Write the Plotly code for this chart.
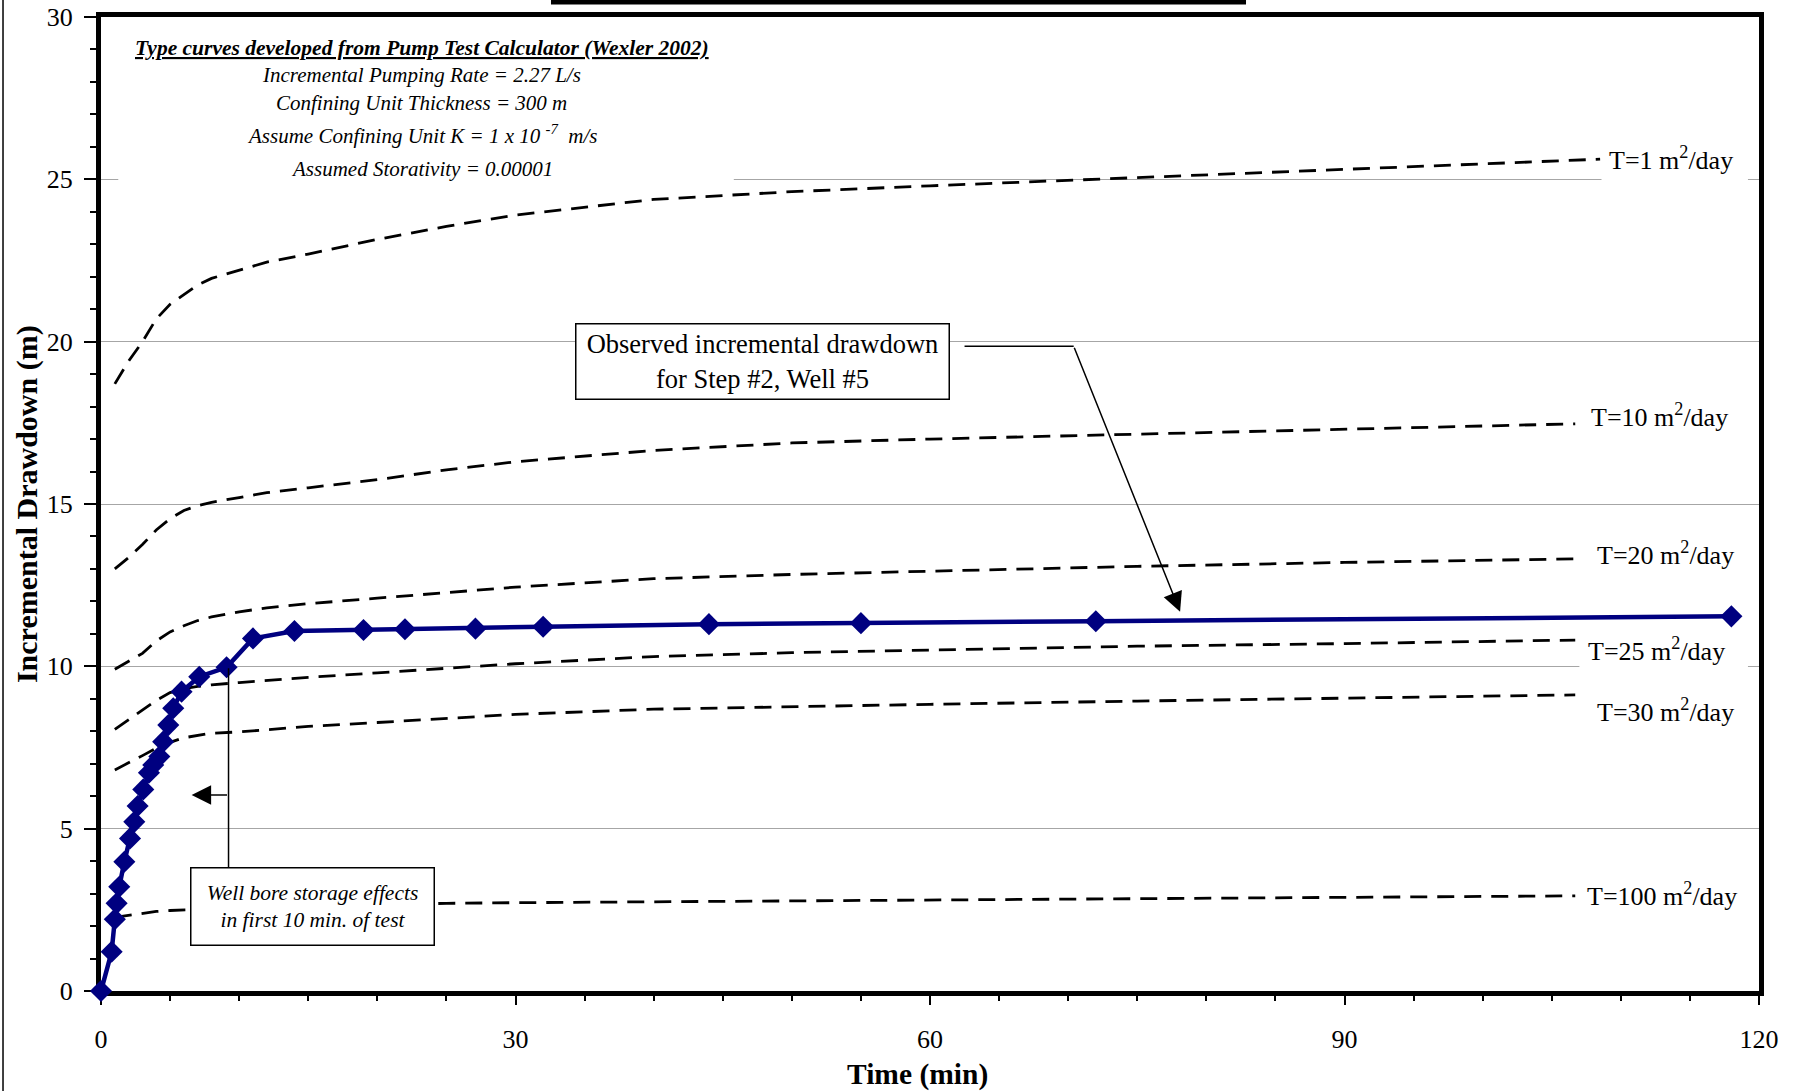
import plotly.graph_objects as go

# ---------------- data ----------------
obs_time = [0, 0.77, 1.0, 1.13, 1.32, 1.69, 2.1, 2.41, 2.65, 3.06, 3.47, 3.78, 4.22, 4.5,
            4.87, 5.23, 5.83, 7.11, 9.09, 11.0, 14.0, 19.0, 22.0, 27.1, 32.0, 44.0, 55.0, 72.0, 118.0]
obs_drawdown = [0, 1.21, 2.21, 2.70, 3.21, 3.98, 4.70, 5.21, 5.70, 6.21, 6.72, 6.96, 7.22, 7.68,
                8.19, 8.71, 9.22, 9.68, 9.97, 10.86, 11.09, 11.12, 11.14, 11.16, 11.22, 11.30, 11.33, 11.39, 11.54]

curve_time = [1, 2, 3, 4, 5, 6, 7, 8, 10, 12, 15, 20, 25, 30, 40, 50, 60, 75, 90, 106.7]
curve_time_T1 = [1, 2, 3, 4, 5, 6, 7, 8, 10, 12, 15, 20, 25, 30, 40, 50, 60, 75, 90, 108.5]

s_T1 = [18.7, 19.4, 20.0, 20.7, 21.15, 21.45, 21.75, 21.95, 22.2, 22.45, 22.7, 23.15, 23.55, 23.9,
        24.38, 24.62, 24.8, 25.05, 25.3, 25.62]
s_T10 = [13.0, 13.35, 13.75, 14.2, 14.55, 14.8, 14.95, 15.05, 15.2, 15.35, 15.5, 15.75, 16.05, 16.3,
         16.65, 16.88, 17.0, 17.15, 17.3, 17.47]
s_T20 = [9.91, 10.15, 10.4, 10.78, 11.06, 11.25, 11.41, 11.52, 11.68, 11.8, 11.93, 12.1, 12.26, 12.44,
         12.7, 12.83, 12.93, 13.08, 13.2, 13.31]
s_T25 = [8.06, 8.35, 8.66, 8.95, 9.19, 9.31, 9.38, 9.43, 9.5, 9.57, 9.66, 9.8, 9.95, 10.08,
         10.3, 10.42, 10.5, 10.62, 10.7, 10.81]
s_T30 = [6.81, 7.02, 7.25, 7.48, 7.66, 7.8, 7.88, 7.94, 7.98, 8.04, 8.15, 8.27, 8.4, 8.52,
         8.68, 8.76, 8.83, 8.93, 9.01, 9.12]
s_T100 = [2.27, 2.33, 2.4, 2.45, 2.48, 2.5, 2.52, 2.54, 2.56, 2.58, 2.61, 2.65, 2.7, 2.72,
          2.75, 2.77, 2.79, 2.85, 2.89, 2.93]

curve_labels = ["T=1 m<sup>2</sup>/day", "T=10 m<sup>2</sup>/day", "T=20 m<sup>2</sup>/day",
                "T=25 m<sup>2</sup>/day", "T=30 m<sup>2</sup>/day", "T=100 m<sup>2</sup>/day"]
label_x = [109.0, 107.7, 108.1, 107.5, 108.1, 107.4]
label_y = [25.65, 17.72, 13.47, 10.51, 8.64, 2.98]

x_ticks = [0, 30, 60, 90, 120]
y_ticks = [0, 5, 10, 15, 20, 25, 30]

info_lines = [
    "<b><i><u>Type curves developed from Pump Test Calculator (Wexler 2002)</u></i></b>",
    "<i>Incremental Pumping Rate = 2.27 L/s</i>",
    "<i>Confining Unit Thickness = 300 m</i>",
    "<i>Assume Confining Unit K = 1 x 10 <sup>-7</sup>  m/s</i>",
    "<i>Assumed Storativity = 0.00001</i>",
]
info_y = [29.05, 28.2, 27.36, 26.38, 25.33]
info_x = 23.2

FONT = "Liberation Serif"
NAVY = "#000080"

fig = go.Figure()

curves = [(curve_time_T1, s_T1), (curve_time, s_T10), (curve_time, s_T20),
          (curve_time, s_T25), (curve_time, s_T30), (curve_time, s_T100)]
for tt, ss in curves:
    fig.add_trace(go.Scatter(x=tt, y=ss, mode="lines",
                             line=dict(color="black", width=2.8, dash="17px,10px"),
                             hoverinfo="skip", showlegend=False))

fig.add_trace(go.Scatter(x=obs_time, y=obs_drawdown, mode="lines+markers",
                         line=dict(color=NAVY, width=4.5),
                         marker=dict(symbol="diamond", size=17, color=NAVY),
                         cliponaxis=False, showlegend=False))

shapes = []
# white backgrounds (text boxes) sitting between gridlines and traces
shapes.append(dict(type="rect", xref="x", yref="y", x0=1.25, x1=45.8, y0=24.8, y1=29.6,
                   fillcolor="white", line=dict(width=0), layer="between"))
shapes.append(dict(type="rect", xref="x", yref="y", x0=108.6, x1=119.2, y0=24.6, y1=26.6,
                   fillcolor="white", line=dict(width=0), layer="between"))
shapes.append(dict(type="rect", xref="x", yref="y", x0=107.0, x1=119.2, y0=9.8, y1=11.2,
                   fillcolor="white", line=dict(width=0), layer="between"))
# callout lines
shapes.append(dict(type="line", xref="x", yref="y", x0=62.5, x1=70.4, y0=19.86, y1=19.86,
                   line=dict(color="black", width=1.5)))
shapes.append(dict(type="line", xref="x", yref="y", x0=9.23, x1=9.23, y0=3.81, y1=9.94,
                   line=dict(color="black", width=1.5)))
# top cropped bar and left page border
shapes.append(dict(type="rect", xref="paper", yref="paper", x0=0.2714, x1=0.6906, y0=1.0128, y1=1.03,
                   fillcolor="black", line=dict(width=0)))
shapes.append(dict(type="line", xref="paper", yref="paper", x0=-0.0591, x1=-0.0591, y0=-0.11, y1=1.03,
                   line=dict(color="black", width=1.5)))

annotations = []
info_sizes = [21.5, 21, 21, 21, 21]
for txt, yy, fs in zip(info_lines, info_y, info_sizes):
    annotations.append(dict(x=info_x, y=yy, xref="x", yref="y", text=txt, showarrow=False,
                            font=dict(family=FONT, size=fs, color="black"), xanchor="center", yanchor="middle"))
for txt, xx, yy in zip(curve_labels, label_x, label_y):
    annotations.append(dict(x=xx, y=yy, xref="x", yref="y", text=txt, showarrow=False,
                            font=dict(family=FONT, size=26, color="black"), xanchor="left", yanchor="middle"))

annotations.append(dict(x=47.86, y=19.4, xref="x", yref="y",
                        text="Observed incremental drawdown<br>for Step #2, Well #5",
                        showarrow=False, font=dict(family=FONT, size=26.5, color="black"),
                        bgcolor="white", bordercolor="black", borderwidth=1.5, borderpad=4,
                        width=364, height=66, align="center"))
annotations.append(dict(x=15.3, y=2.59, xref="x", yref="y",
                        text="<i>Well bore storage effects<br>in first 10 min. of test</i>",
                        showarrow=False, font=dict(family=FONT, size=21.5, color="black"),
                        bgcolor="white", bordercolor="black", borderwidth=1.5, borderpad=4,
                        width=234, height=68, align="center"))
annotations.append(dict(x=78.1, y=11.68, xref="x", yref="y", ax=70.4, ay=19.86, axref="x", ayref="y",
                        text="", showarrow=True, arrowhead=2, arrowsize=2.6, arrowwidth=1.5,
                        arrowcolor="black"))
annotations.append(dict(x=6.56, y=6.04, xref="x", yref="y", ax=9.23, ay=6.04, axref="x", ayref="y",
                        text="", showarrow=True, arrowhead=2, arrowsize=2.6, arrowwidth=1.5,
                        arrowcolor="black"))
# axis titles
annotations.append(dict(x=-0.0446, y=0.5, xref="paper", yref="paper", text="<b>Incremental Drawdown (m)</b>",
                        textangle=-90, showarrow=False, font=dict(family=FONT, size=30, color="black"),
                        xanchor="center", yanchor="middle"))
annotations.append(dict(x=0.4925, y=-0.0855, xref="paper", yref="paper", text="<b>Time (min)</b>",
                        showarrow=False, font=dict(family=FONT, size=29.5, color="black"),
                        xanchor="center", yanchor="middle"))

fig.update_layout(
    width=1799, height=1091,
    margin=dict(l=101, r=40, t=17, b=100, autoexpand=False),
    paper_bgcolor="white", plot_bgcolor="white",
    font=dict(family=FONT, color="black", size=26),
    shapes=shapes, annotations=annotations,
    showlegend=False,
)
fig.update_xaxes(range=[0, 120], tickvals=x_ticks, ticktext=[str(v) for v in x_ticks],
                 showgrid=False, zeroline=False, automargin=False,
                 showline=True, linewidth=5, linecolor="black", mirror=True,
                 ticks="outside", ticklen=9, tickwidth=1.5, tickcolor="black",
                 ticklabelstandoff=12, layer="below traces",
                 tickfont=dict(family=FONT, size=26, color="black"),
                 minor=dict(dtick=5, ticks="outside", ticklen=5, tickwidth=1.5, tickcolor="black", showgrid=False))
fig.update_yaxes(range=[0, 30], tickvals=y_ticks, ticktext=[str(v) for v in y_ticks],
                 showgrid=True, gridcolor="#a6a6a6", gridwidth=1, zeroline=False, automargin=False,
                 showline=True, linewidth=5, linecolor="black", mirror=True,
                 ticks="outside", ticklen=12, tickwidth=1.5, tickcolor="black",
                 ticklabelstandoff=6, layer="below traces",
                 tickfont=dict(family=FONT, size=26, color="black"),
                 minor=dict(dtick=1, ticks="outside", ticklen=6, tickwidth=1.5, tickcolor="black", showgrid=False))

fig.write_html("out.html", config={"displayModeBar": False},
               post_script="document.body.style.margin='0px';document.body.style.overflow='hidden';")
